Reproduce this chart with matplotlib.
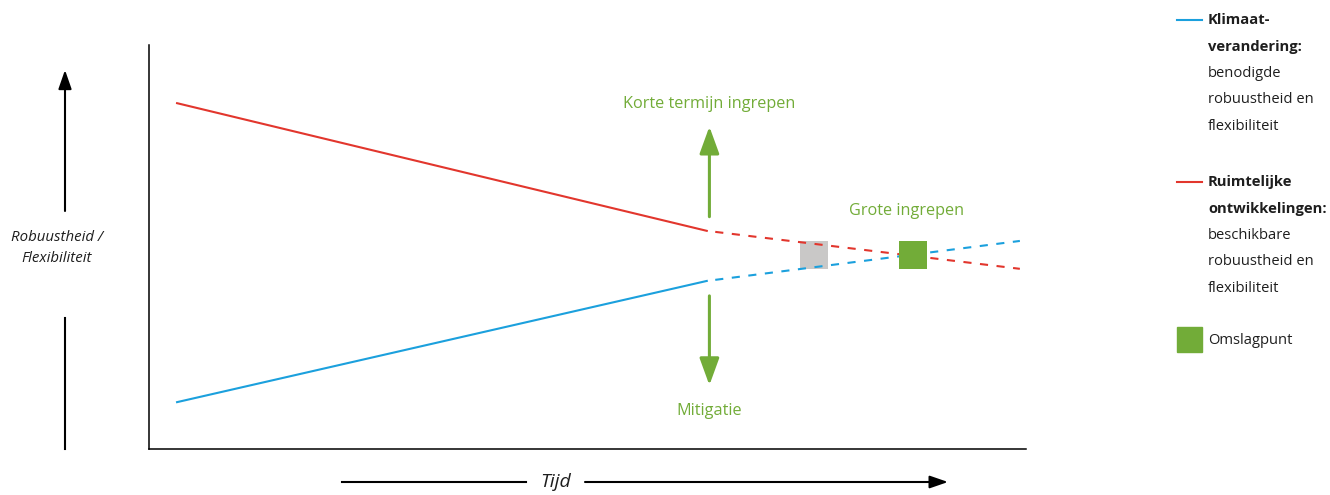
import matplotlib
matplotlib.use('Agg')
import matplotlib.pyplot as plt
from matplotlib.lines import Line2D

plt.rcParams['font.family'] = ['Open Sans', 'DejaVu Sans']

# data (time on x, robustness / flexibility on y, both 0-100)
tijd = [3.2, 63.6, 99.3]            # start, now, end
klimaat = [11.6, 41.6, 51.5]        # needed robustness (blue)
ruimtelijk = [85.6, 54.0, 44.6]     # available robustness (red)
grijs_punt = [75.8, 47.9]
omslagpunt = [87.1, 47.9]
ingreep_x = 63.9
korte_termijn = [57.5, 79.8]        # arrow up
mitigatie = [37.9, 15.8]            # arrow down

legend_lines = [
    ['Klimaat-', 'verandering:'],
    ['benodigde', 'robuustheid en', 'flexibiliteit'],
    ['Ruimtelijke', 'ontwikkelingen:'],
    ['beschikbare', 'robuustheid en', 'flexibiliteit'],
]

BLUE = '#1ba0dd'
RED = '#e2362d'
GREEN = '#72ac38'
GREY = '#c9c8c7'
TXT = '#1e1e1e'

W, H = 1330, 495
fig = plt.figure(figsize=(W / 100, H / 100), dpi=100)


def px(x, y):
    # figure pixel position measured from the top-left
    return (x, H - y)


# main chart
ax = fig.add_axes([149 / W, 1 - 449 / H, 877 / W, 404 / H])
ax.set_xlim(0, 100)
ax.set_ylim(0, 100)
ax.spines[['top', 'right']].set_visible(False)
ax.spines[['left', 'bottom']].set_linewidth(1.1)
ax.set_xticks([])
ax.set_yticks([])

dash = (3.9, (3.9, 4.1))
ax.plot(tijd[:2], ruimtelijk[:2], color=RED, lw=1.5)
ax.plot(tijd[1:], ruimtelijk[1:], color=RED, lw=1.5, ls=dash)
ax.plot(tijd[:2], klimaat[:2], color=BLUE, lw=1.5)
ax.plot(tijd[1:], klimaat[1:], color=BLUE, lw=1.5, ls=dash)

ax.scatter([grijs_punt[0]], [grijs_punt[1]], marker='s', s=378,
           color=GREY, linewidths=0, zorder=1)
ax.scatter([omslagpunt[0]], [omslagpunt[1]], marker='s', s=378,
           color=GREEN, linewidths=0, zorder=5)

green_arrow = dict(arrowstyle='-|>,head_length=1.65,head_width=0.6',
                   color=GREEN, lw=2.2, shrinkA=0, shrinkB=0)
ax.annotate('', xy=(ingreep_x, korte_termijn[1]),
            xytext=(ingreep_x, korte_termijn[0]), arrowprops=green_arrow)
ax.annotate('', xy=(ingreep_x, mitigatie[1]),
            xytext=(ingreep_x, mitigatie[0]), arrowprops=green_arrow)

fig.text(709 / W, 1 - 104 / H, 'Korte termijn ingrepen', color=GREEN,
         fontsize=11.7, ha='center', va='center')
fig.text(709 / W, 1 - 411 / H, 'Mitigatie', color=GREEN,
         fontsize=11.7, ha='center', va='center')
fig.text(907 / W, 1 - 211 / H, 'Grote ingrepen', color=GREEN,
         fontsize=11.7, ha='center', va='center')

# y axis arrow on the left
black_arrow = dict(arrowstyle='-|>,head_length=1.15,head_width=0.4',
                   color='black', lw=1.5, shrinkA=0, shrinkB=0)
ax.annotate('', xy=px(65, 70), xytext=px(65, 211), xycoords='figure pixels',
            textcoords='figure pixels', arrowprops=black_arrow,
            annotation_clip=False)
fig.add_artist(Line2D([65 / W, 65 / W], [1 - 318 / H, 1 - 449 / H],
                      color='black', lw=1.5))
fig.text(57 / W, 1 - 248 / H, 'Robuustheid /\nFlexibiliteit', color=TXT,
         fontsize=10.8, style='italic', ha='center', va='center',
         linespacing=1.5)

# time arrow at the bottom
fig.add_artist(Line2D([342 / W, 526 / W], [1 - 482 / H, 1 - 482 / H],
                      color='black', lw=1.5))
ax.annotate('', xy=px(948, 482), xytext=px(585, 482),
            xycoords='figure pixels', textcoords='figure pixels',
            arrowprops=dict(arrowstyle='-|>,head_length=1.1,head_width=0.38',
                            color='black', lw=1.5, shrinkA=0, shrinkB=0),
            annotation_clip=False)
fig.text(556 / W, 1 - 482 / H, 'Tijd', color=TXT, fontsize=14,
         style='italic', ha='center', va='center')

# legend
step = 26.6
y = 20
for i, (bold, normal) in enumerate([(legend_lines[0], legend_lines[1]),
                                     (legend_lines[2], legend_lines[3])]):
    col = BLUE if i == 0 else RED
    fig.add_artist(Line2D([1177 / W, 1202 / W], [1 - y / H, 1 - y / H],
                          color=col, lw=1.5))
    for line in bold:
        fig.text(1208 / W, 1 - y / H, line, color=TXT, fontsize=10.6,
                 fontweight='bold', ha='left', va='center')
        y += step
    for line in normal:
        fig.text(1208 / W, 1 - y / H, line, color=TXT, fontsize=10.6,
                 ha='left', va='center')
        y += step
    y = 182

fig.add_artist(plt.Rectangle((1177 / W, 1 - 352 / H), 25 / W, 25 / H,
                             color=GREEN, transform=fig.transFigure))
fig.text(1208 / W, 1 - 341 / H, 'Omslagpunt', color=TXT, fontsize=10.6,
         ha='left', va='center')

fig.savefig('out.png', dpi=100)
